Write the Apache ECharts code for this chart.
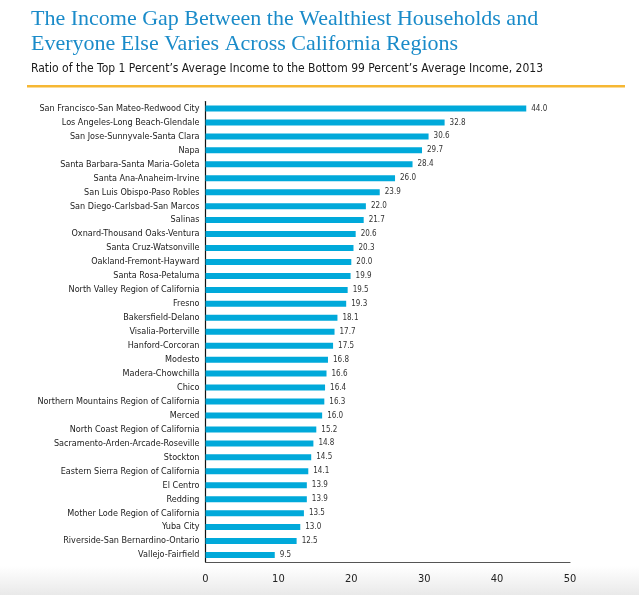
<!DOCTYPE html>
<html>
<head>
<meta charset="utf-8">
<script src="https://cdn.jsdelivr.net/npm/echarts@6/dist/echarts.min.js"></script>
<style>
html,body{margin:0;padding:0;background:#fff;}
#chart{width:639px;height:595px;}
</style>
</head>
<body>
<div id="chart"></div>
<script>
const categories = [
  "San Francisco-San Mateo-Redwood City",
  "Los Angeles-Long Beach-Glendale",
  "San Jose-Sunnyvale-Santa Clara",
  "Napa",
  "Santa Barbara-Santa Maria-Goleta",
  "Santa Ana-Anaheim-Irvine",
  "San Luis Obispo-Paso Robles",
  "San Diego-Carlsbad-San Marcos",
  "Salinas",
  "Oxnard-Thousand Oaks-Ventura",
  "Santa Cruz-Watsonville",
  "Oakland-Fremont-Hayward",
  "Santa Rosa-Petaluma",
  "North Valley Region of California",
  "Fresno",
  "Bakersfield-Delano",
  "Visalia-Porterville",
  "Hanford-Corcoran",
  "Modesto",
  "Madera-Chowchilla",
  "Chico",
  "Northern Mountains Region of California",
  "Merced",
  "North Coast Region of California",
  "Sacramento-Arden-Arcade-Roseville",
  "Stockton",
  "Eastern Sierra Region of California",
  "El Centro",
  "Redding",
  "Mother Lode Region of California",
  "Yuba City",
  "Riverside-San Bernardino-Ontario",
  "Vallejo-Fairfield"
];
const ratios = [44.0, 32.8, 30.6, 29.7, 28.4, 26.0, 23.9, 22.0, 21.7, 20.6, 20.3, 20.0, 19.9, 19.5, 19.3, 18.1, 17.7, 17.5, 16.8, 16.6, 16.4, 16.3, 16.0, 15.2, 14.8, 14.5, 14.1, 13.9, 13.9, 13.5, 13.0, 12.5, 9.5];
const xTicks = [0, 10, 20, 30, 40, 50];

const titleLine1 = "The Income Gap Between the Wealthiest Households and";
const titleLine2 = "Everyone Else Varies Across California Regions";
const subtitle = "Ratio of the Top 1 Percent\u2019s Average Income to the Bottom 99 Percent\u2019s Average Income, 2013";

const chart = echarts.init(document.getElementById('chart'), null, {renderer: 'canvas'});
const condensed = '"DejaVu Sans Condensed", "Noto Sans", sans-serif';
chart.setOption({
  animation: false,
  backgroundColor: '#ffffff',
  title: [
    {text: titleLine1, left: 26, top: 3, textStyle: {fontFamily: '"Liberation Serif", "DejaVu Serif", serif', fontSize: 22, fontWeight: 'normal', color: '#1a8bc9'}},
    {text: titleLine2, left: 26, top: 28, textStyle: {fontFamily: '"Liberation Serif", "DejaVu Serif", serif', fontSize: 22, fontWeight: 'normal', color: '#1a8bc9'}},
    {text: subtitle, left: 26, top: 58, textStyle: {fontFamily: condensed, fontSize: 12, fontWeight: 'normal', color: '#1a1a1a'}}
  ],
  graphic: [
    {type: 'rect', shape: {x: 27, y: 85, width: 598, height: 2.5}, style: {fill: '#f6b733'}, silent: true},
    {type: 'rect', z: -10, shape: {x: 0, y: 566, width: 639, height: 29},
      style: {fill: new echarts.graphic.LinearGradient(0, 0, 0, 1, [{offset: 0, color: '#ffffff'}, {offset: 1, color: '#e9e9e9'}])}, silent: true}
  ],
  grid: {left: 205.5, right: 69, top: 101.5, bottom: 33, containLabel: false},
  xAxis: {
    type: 'value', min: 0, max: 50, interval: 10,
    axisLine: {show: true, lineStyle: {color: '#555555', width: 1.2}},
    axisTick: {show: false},
    splitLine: {show: false},
    axisLabel: {margin: 12, color: '#222222', fontSize: 11, fontFamily: condensed,
      formatter: v => xTicks.includes(v) ? String(v) : ''}
  },
  yAxis: {
    type: 'category', data: categories, inverse: true,
    axisLine: {show: true, lineStyle: {color: '#111111', width: 1.2}},
    axisTick: {show: false},
    axisLabel: {interval: 0, margin: 6, color: '#1a1a1a', fontSize: 9, fontFamily: condensed}
  },
  series: [{
    type: 'bar', data: ratios, barWidth: 6,
    itemStyle: {color: '#00a9da'},
    label: {show: true, position: 'right', distance: 5, color: '#333333', fontSize: 8,
      fontFamily: condensed, formatter: p => p.value.toFixed(1)}
  }]
});
</script>
</body>
</html>
